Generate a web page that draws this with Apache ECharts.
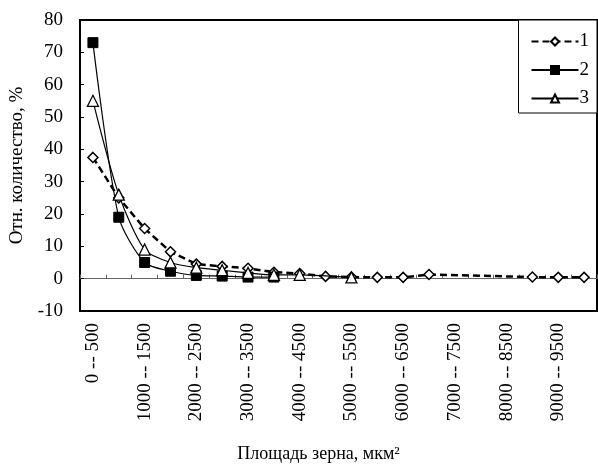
<!DOCTYPE html>
<html>
<head>
<meta charset="utf-8">
<script src="https://cdn.jsdelivr.net/npm/echarts@6/dist/echarts.min.js"></script>
<style>html,body{margin:0;padding:0;background:#fff;}#c{width:598px;height:469px;}</style>
</head>
<body>
<div id="c"></div>
<script>
var categories = ["0 -- 500","500 -- 1000","1000 -- 1500","1500 -- 2000","2000 -- 2500","2500 -- 3000","3000 -- 3500","3500 -- 4000","4000 -- 4500","4500 -- 5000","5000 -- 5500","5500 -- 6000","6000 -- 6500","6500 -- 7000","7000 -- 7500","7500 -- 8000","8000 -- 8500","8500 -- 9000","9000 -- 9500","9500 -- 10000"];
var series1 = [37.5, 25, 15.5, 8.3, 4.5, 3.8, 3.2, 2.0, 1.6, 0.7, 0.5, 0.4, 0.4, 1.3, null, null, null, 0.5, 0.4, 0.4];
var series2 = [73, 19, 5, 2.3, 1.0, 0.8, 0.5, 0.5, null, null, null, null, null, null, null, null, null, null, null, null];
var series3 = [55, 26, 9, 5, 3.4, 2.6, 1.8, 1.2, 1.2, null, 0.4, null, null, null, null, null, null, null, null, null];
var seriesNames = ["1", "2", "3"];
var yTicks = {min: -10, max: 80, interval: 10};

var FONT = "Liberation Serif";
var chart = echarts.init(document.getElementById('c'));
chart.setOption({
  backgroundColor: '#fff',
  animation: false,
  textStyle: {fontFamily: FONT, color: '#000'},
  grid: {left: 80, right: 1, top: 20, bottom: 158, show: true, borderColor: '#000', borderWidth: 2,
         backgroundColor: 'transparent', containLabel: false, outerBoundsMode: 'none'},
  legend: {
    orient: 'vertical', right: 1, top: 20,
    data: seriesNames,
    backgroundColor: '#fff', borderColor: '#000', borderWidth: 1,
    padding: [12, 8, 5, 12], itemGap: 9.5, itemWidth: 47, itemHeight: 10,
    textStyle: {fontFamily: FONT, fontSize: 19, color: '#000', padding: [0, 0, 0, -4]}
  },
  xAxis: [{
    type: 'category', data: categories, position: 'bottom', boundaryGap: true,
    axisLine: {show: false, onZero: false},
    axisTick: {show: false},
    axisLabel: {interval: 1, rotate: 90, margin: 12, fontFamily: FONT, fontSize: 19, color: '#000'},
    name: 'Площадь зерна, мкм²', nameLocation: 'middle', nameGap: 134,
    nameTextStyle: {fontFamily: FONT, fontSize: 18, color: '#000', padding: [0, 40, 0, 0]}
  }, {
    type: 'category', data: categories, position: 'bottom', boundaryGap: true,
    axisLine: {show: true, onZero: true, lineStyle: {color: '#666', width: 1}},
    axisTick: {show: true, inside: true, length: 4, interval: 0, lineStyle: {color: '#666'}},
    axisLabel: {show: false}
  }],
  yAxis: {
    type: 'value', min: yTicks.min, max: yTicks.max, interval: yTicks.interval,
    axisLine: {show: false},
    axisTick: {show: true, inside: true, length: 4, lineStyle: {color: '#000'}},
    splitLine: {show: false},
    axisLabel: {margin: 17, fontFamily: FONT, fontSize: 19, color: '#000'},
    name: 'Отн. количество, %', nameLocation: 'middle', nameGap: 52,
    nameTextStyle: {fontFamily: FONT, fontSize: 19, color: '#000'}
  },
  series: [{
    name: seriesNames[0], type: 'line', data: series1, connectNulls: true,
    symbol: 'diamond', symbolSize: 10,
    itemStyle: {color: '#fff', borderColor: '#000', borderWidth: 1.5},
    lineStyle: {color: '#000', width: 2.5, type: [7, 4]}, z: 3
  }, {
    name: seriesNames[1], type: 'line', data: series2, connectNulls: true, smooth: 0.25,
    symbol: 'rect', symbolSize: 10,
    itemStyle: {color: '#000', borderColor: '#000', borderWidth: 1},
    lineStyle: {color: '#000', width: 1.2}, z: 4
  }, {
    name: seriesNames[2], type: 'line', data: series3, connectNulls: true, smooth: 0.25,
    symbol: 'triangle', symbolSize: 11,
    itemStyle: {color: '#fff', borderColor: '#000', borderWidth: 1.3},
    lineStyle: {color: '#000', width: 1.2}, z: 5
  }]
});
</script>
</body>
</html>
